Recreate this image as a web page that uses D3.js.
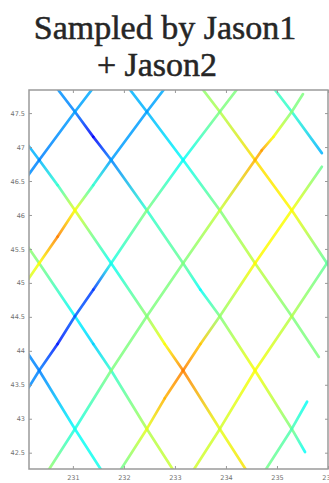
<!DOCTYPE html>
<html>
<head>
<meta charset="utf-8">
<script src="https://cdn.jsdelivr.net/npm/d3@7"></script>
<style>
  body { margin: 0; background: #fff; }
  svg { display: block; }
  .title { font-family: 'Times New Roman', Times, 'Liberation Serif', 'DejaVu Serif', 'Noto Serif', FreeSerif, serif; }
</style>
</head>
<body>
<div id="chart"></div>
<script>
// title and ticks
const titleLines = ["Sampled by Jason1", "+ Jason2"];
const lonTicks = [231, 232, 233, 234, 235, 236];
const latTicks = [42.5, 43, 43.5, 44, 44.5, 45, 45.5, 46, 46.5, 47, 47.5];

// ground tracks, each point is [lon, lat, value] (value 0..1 on the jet map)
// descending tracks (top-left to bottom-right)
const descA5 = [[234.80, 48.0, 0.45], [235.29, 47.52, 0.42], [235.88, 46.91, 0.30]];
const descA4 = [[233.39, 48.0, 0.50], [233.88, 47.52, 0.55], [234.57, 46.81, 0.66], [235.29, 46.07, 0.63], [235.98, 45.29, 0.47], [236.70, 44.51, 0.45]];
const descA3 = [[231.96, 48.0, 0.30], [232.45, 47.52, 0.30], [233.16, 46.81, 0.38], [233.88, 46.07, 0.50], [234.57, 45.29, 0.57], [235.29, 44.51, 0.50], [235.82, 43.91, 0.50]];
const descA2 = [[230.55, 48.0, 0.28], [231.04, 47.52, 0.25], [231.40, 47.15, 0.12], [231.75, 46.81, 0.25], [232.45, 46.07, 0.42], [233.16, 45.29, 0.48], [233.50, 44.90, 0.38], [233.88, 44.51, 0.50], [234.57, 43.71, 0.62], [235.29, 42.85, 0.50], [235.55, 42.51, 0.38]];
const descA1 = [[229.63, 47.52, 0.30], [230.34, 46.81, 0.30], [230.70, 46.44, 0.42], [231.04, 46.07, 0.60], [231.75, 45.29, 0.38], [232.45, 44.51, 0.52], [232.80, 44.10, 0.62], [233.16, 43.71, 0.75], [233.88, 42.85, 0.60], [234.52, 42.10, 0.66]];
const descA0 = [[228.92, 46.81, 0.55], [229.63, 46.07, 0.55], [230.34, 45.29, 0.50], [231.04, 44.51, 0.37], [231.40, 44.10, 0.33], [231.75, 43.71, 0.42], [232.45, 42.85, 0.55], [233.09, 42.10, 0.58]];
const descAm1 = [[228.92, 45.29, 0.30], [229.63, 44.51, 0.30], [230.34, 43.71, 0.25], [231.04, 42.85, 0.38], [231.68, 42.10, 0.40]];

// ascending tracks (bottom-left to top-right)
const ascB1 = [[231.53, 48.0, 0.30], [231.04, 47.52, 0.28], [230.34, 46.81, 0.25], [229.63, 46.07, 0.30]];
const ascB2 = [[232.94, 48.0, 0.30], [232.45, 47.52, 0.28], [231.75, 46.81, 0.28], [231.40, 46.44, 0.42], [231.04, 46.07, 0.62], [230.70, 45.68, 0.75], [230.34, 45.29, 0.62], [229.63, 44.51, 0.50]];
const ascB3 = [[234.37, 48.0, 0.50], [233.88, 47.52, 0.50], [233.16, 46.81, 0.38], [232.45, 46.07, 0.50], [231.75, 45.29, 0.40], [231.40, 44.90, 0.18], [231.04, 44.51, 0.22], [230.70, 44.10, 0.15], [230.34, 43.71, 0.25], [229.63, 42.85, 0.30]];
const ascB4 = [[235.51, 47.78, 0.50], [235.29, 47.52, 0.50], [234.93, 47.15, 0.62], [234.70, 46.95, 0.72], [234.57, 46.81, 0.70], [233.88, 46.07, 0.57], [233.16, 45.29, 0.50], [232.45, 44.51, 0.50], [231.75, 43.71, 0.50], [231.04, 42.85, 0.40], [230.40, 42.10, 0.55]];
const ascB5 = [[235.88, 46.71, 0.48], [235.29, 46.07, 0.62], [234.57, 45.29, 0.63], [233.88, 44.51, 0.52], [233.50, 44.10, 0.68], [233.16, 43.71, 0.75], [232.80, 43.30, 0.70], [232.45, 42.85, 0.60], [231.81, 42.10, 0.45]];
const ascB6 = [[236.70, 46.07, 0.50], [235.98, 45.29, 0.47], [235.29, 44.51, 0.55], [234.57, 43.71, 0.62], [233.88, 42.85, 0.58], [233.24, 42.10, 0.58]];
const ascB7 = [[235.59, 43.25, 0.38], [235.29, 42.85, 0.45], [234.65, 42.10, 0.50]];

const tracks = [descAm1, descA0, descA1, descA2, descA3, descA4, descA5,
                ascB1, ascB2, ascB3, ascB4, ascB5, ascB6, ascB7];

const width = 329, height = 483;
const plotLeft = 29, plotRight = 328, plotTop = 90, plotBottom = 469;

const svg = d3.select('#chart').append('svg')
  .attr('width', width)
  .attr('height', height);

// title, two lines
svg.selectAll('text.title')
  .data(titleLines)
  .enter()
  .append('text')
  .attr('class', 'title')
  .attr('x', (d, i) => i === 0 ? 165 : 157)
  .attr('y', (d, i) => i === 0 ? 39 : 76)
  .attr('text-anchor', 'middle')
  .attr('font-size', 34)
  .attr('fill', '#262626')
  .attr('stroke', '#262626')
  .attr('stroke-width', 0.5)
  .text(d => d);

const x = d3.scaleLinear().domain([230.14, 236.0]).range([plotLeft, plotRight]);
const y = d3.scaleLinear().domain([42.26, 47.84]).range([plotBottom, plotTop]);

// jet colour map
const jet = d3.scaleLinear()
  .domain([0, 0.125, 0.375, 0.625, 0.875, 1])
  .range(['#00007f', '#0000ff', '#00ffff', '#ffff00', '#ff0000', '#7f0000']);

const defs = svg.append('defs');
defs.append('clipPath').attr('id', 'plotClip')
  .append('rect')
  .attr('x', plotLeft).attr('y', plotTop)
  .attr('width', plotRight - plotLeft).attr('height', plotBottom - plotTop);

const plot = svg.append('g').attr('clip-path', 'url(#plotClip)');

// every track is drawn segment by segment with a gradient between its end values
tracks.forEach((track, t) => {
  for (let i = 0; i < track.length - 1; i++) {
    const p0 = track[i], p1 = track[i + 1];
    const id = `g${t}_${i}`;
    const grad = defs.append('linearGradient')
      .attr('id', id)
      .attr('gradientUnits', 'userSpaceOnUse')
      .attr('x1', x(p0[0])).attr('y1', y(p0[1]))
      .attr('x2', x(p1[0])).attr('y2', y(p1[1]));
    grad.append('stop').attr('offset', '0%').attr('stop-color', jet(p0[2]));
    grad.append('stop').attr('offset', '100%').attr('stop-color', jet(p1[2]));

    plot.append('line')
      .attr('x1', x(p0[0])).attr('y1', y(p0[1]))
      .attr('x2', x(p1[0])).attr('y2', y(p1[1]))
      .attr('stroke', `url(#${id})`)
      .attr('stroke-width', 2.7)
      .attr('stroke-linecap', 'round')
      .attr('stroke-opacity', 0.85);
  }
});

// axes, ticks pointing inside like matlab
const axisColor = '#9a9a9a';
const tickFont = '"DejaVu Sans", sans-serif';

const xAxis = svg.append('g')
  .attr('transform', `translate(0, ${plotBottom})`)
  .call(d3.axisBottom(x).tickValues(lonTicks).tickSize(-3).tickPadding(6).tickFormat(d3.format('d')));

const xTop = svg.append('g')
  .attr('transform', `translate(0, ${plotTop})`)
  .call(d3.axisTop(x).tickValues(lonTicks).tickSize(-3).tickFormat(''));

const yAxis = svg.append('g')
  .attr('transform', `translate(${plotLeft}, 0)`)
  .call(d3.axisLeft(y).tickValues(latTicks).tickSize(-3).tickPadding(4).tickFormat(d3.format('')));

const yRight = svg.append('g')
  .attr('transform', `translate(${plotRight}, 0)`)
  .call(d3.axisRight(y).tickValues(latTicks).tickSize(-3).tickFormat(''));

[xAxis, xTop, yAxis, yRight].forEach(g => {
  g.select('.domain').remove();
  g.selectAll('line').attr('stroke', axisColor);
  g.selectAll('text')
    .style('font-family', tickFont)
    .style('font-size', '6.5px')
    .style('fill', '#707070');
});

// frame
svg.append('rect')
  .attr('x', plotLeft).attr('y', plotTop)
  .attr('width', plotRight - plotLeft).attr('height', plotBottom - plotTop)
  .attr('fill', 'none')
  .attr('stroke', axisColor)
  .attr('stroke-width', 1.5);
</script>
</body>
</html>
